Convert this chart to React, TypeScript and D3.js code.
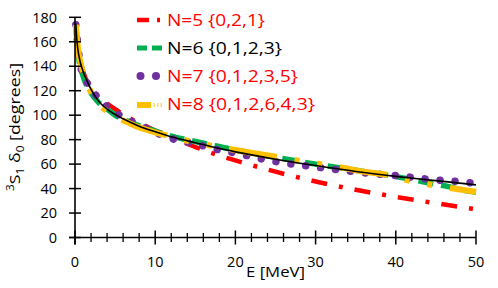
import React from "react";
import * as d3 from "d3";

const W = 498;
const H = 288;

const xTicksMajor = [0, 10, 20, 30, 40, 50];
const xTicksMinor = [2, 4, 6, 8, 12, 14, 16, 18, 22, 24, 26, 28, 32, 34, 36, 38, 42, 44, 46, 48];
const yTicks = [0, 20, 40, 60, 80, 100, 120, 140, 160, 180];

const exactE = [0.1, 0.25, 0.5, 1, 1.5, 2, 3, 4, 5, 6, 8, 10, 12.5, 15, 17.5, 20, 25, 30, 35, 40, 45, 50];
const exactD = [175, 160, 148, 136, 128, 121, 111, 105, 100.5, 97, 91, 86.5, 81.5, 77.5, 73.5, 70, 64, 58.8, 54, 50, 46.5, 43];

const n5E = [0.1, 0.5, 1, 2, 3, 4, 5, 7, 10, 12.5, 15, 17.5, 20, 25, 30, 35, 40, 45, 50];
const n5D = [174, 149, 136, 122, 115, 109.5, 105, 97, 87.5, 80.5, 74, 68, 63, 53.8, 45.8, 39, 33.2, 28, 23];

const n6E = [0.1, 0.5, 1, 2, 3, 4, 5, 7, 10, 12.5, 15, 17.5, 20, 25, 30, 35, 40, 45, 47, 48.5, 50];
const n6D = [173, 145, 132, 118, 110, 105, 100, 94, 87, 82, 78.5, 75, 71.5, 65.5, 60, 55, 49.8, 43.5, 41, 38.5, 37];

const n7E = [0.1, 0.8, 1.9, 2.9, 5, 8, 12.5, 15, 18, 20, 23.6, 25.5, 29.2, 33, 36.6, 40.5, 44.3, 48, 50];
const n7D = [174, 137, 123, 114, 102.5, 92, 80, 76.5, 71.5, 69, 63.8, 61.5, 58.3, 55.2, 52.5, 50.3, 47.5, 45.6, 44.3];

const n8E = [0.1, 0.4, 0.8, 1.5, 2, 3, 4, 5, 6.4, 8, 10, 12.3, 15, 17.5, 20, 25, 30, 33, 36, 39, 41, 44, 47, 50];
const n8D = [174, 153, 140, 125, 119, 109, 103, 98.5, 94.6, 90, 86, 82, 77.5, 74.5, 71.5, 66, 60.5, 57.5, 53.8, 51, 47.5, 43.5, 40.2, 37.4];

const legendLabels = ["N=5 {0,2,1}", "N=6 {0,1,2,3}", "N=7 {0,1,2,3,5}", "N=8 {0,1,2,6,4,3}"];
const legendColors = ["#FF0000", "#000000", "#FF0000", "#FF0000"];
const legendWidths = [98, 115, 131, 148];

const RED = "#FF0000";
const GREEN = "#00B050";
const PURPLE = "#7030A0";
const ORANGE = "#FFC000";

const font = "'Open Sans', 'Noto Sans', sans-serif";

export default function App() {
  const x = d3.scaleLinear().domain([0, 50]).range([75, 476]);
  const y = d3.scaleLinear().domain([0, 180]).range([237.5, 17.3]);

  const mk = (es: number[], ds: number[]) =>
    d3
      .line<number>()
      .x((_, i) => x(es[i]))
      .y((d) => y(d))
      .curve(d3.curveMonotoneX)(ds) as string;

  const y0 = y(0);
  const x0 = x(0);

  return (
    <svg
      width={W}
      height={H}
      viewBox={`0 0 ${W} ${H}`}
      style={{ position: "absolute", left: 0, top: 0, background: "#fff" }}
      fontFamily={font}
    >
      <rect width={W} height={H} fill="#fff" />
      {/* series */}
      <path d={mk(n5E, n5D)} fill="none" stroke={RED} strokeWidth={4.5} strokeDasharray="16 12 4 12" />
      <path d={mk(n6E, n6D)} fill="none" stroke={GREEN} strokeWidth={5.5} strokeDasharray="15 8" />
      <path d={mk(n7E, n7D)} fill="none" stroke={PURPLE} strokeWidth={7.5} strokeLinecap="round" strokeDasharray="0.01 15" />
      <path d={mk(n8E, n8D)} fill="none" stroke={ORANGE} strokeWidth={6} strokeDasharray="48 18 5 18 5 18" />
      <path d={mk(exactE, exactD)} fill="none" stroke="#000" strokeWidth={1.6} />

      {/* axes */}
      <line x1={x0} x2={x0} y1={y(180)} y2={y0 + 7} stroke="#000" strokeWidth={1.6} />
      <line x1={x0 - 6} x2={x(50)} y1={y0} y2={y0} stroke="#000" strokeWidth={1.6} />
      {yTicks.map((t) => (
        <g key={"y" + t}>
          <line x1={x0 - 6} x2={x0 + 6} y1={y(t)} y2={y(t)} stroke="#000" strokeWidth={1.5} />
          <text x={57} y={y(t) + 5.2} textAnchor="end" fontSize={14.5} fill="#000">
            {t}
          </text>
        </g>
      ))}
      {xTicksMajor.map((t) => (
        <g key={"xm" + t}>
          <line x1={x(t)} x2={x(t)} y1={y0 - 7} y2={y0 + 7} stroke="#000" strokeWidth={1.5} />
          <text x={x(t)} y={267} textAnchor="middle" fontSize={14.5} fill="#000">
            {t}
          </text>
        </g>
      ))}
      {xTicksMinor.map((t) => (
        <line key={"xn" + t} x1={x(t)} x2={x(t)} y1={y0 - 4.5} y2={y0 + 4.5} stroke="#000" strokeWidth={1.3} />
      ))}

      {/* axis titles */}
      <text x={275.5} y={277} textAnchor="middle" fontSize={14.5} fill="#000" textLength={59} lengthAdjust="spacingAndGlyphs">
        E [MeV]
      </text>
      <text
        transform={`translate(20,127) rotate(-90)`}
        textAnchor="middle"
        fontSize={15}
        fill="#000"
        textLength={128}
        lengthAdjust="spacingAndGlyphs"
      >
        <tspan fontSize={10} dy={-6}>3</tspan>
        <tspan dy={6}>S</tspan>
        <tspan fontSize={10} dy={4}>1</tspan>
        <tspan dy={-4}> δ</tspan>
        <tspan fontSize={10} dy={4}>0</tspan>
        <tspan dy={-4}> [degrees]</tspan>
      </text>

      {/* legend */}
      {legendLabels.map((lab, i) => {
        const cy = 20 + i * 28;
        return (
          <g key={lab}>
            {i === 0 && (
              <g>
                <line x1={137} x2={149} y1={cy} y2={cy} stroke={RED} strokeWidth={4.5} />
                <line x1={157} x2={160} y1={cy} y2={cy} stroke={RED} strokeWidth={4.5} />
              </g>
            )}
            {i === 1 && (
              <g>
                <line x1={137} x2={147} y1={cy} y2={cy} stroke={GREEN} strokeWidth={5} />
                <line x1={152} x2={162} y1={cy} y2={cy} stroke={GREEN} strokeWidth={5} />
              </g>
            )}
            {i === 2 && (
              <g>
                <circle cx={140.5} cy={cy} r={4} fill={PURPLE} />
                <circle cx={156} cy={cy} r={4} fill={PURPLE} />
              </g>
            )}
            {i === 3 && (
              <g>
                <line x1={137} x2={151} y1={cy + 1} y2={cy + 1} stroke={ORANGE} strokeWidth={6} />
                <line x1={153.5} x2={155} y1={cy + 1} y2={cy + 1} stroke={ORANGE} strokeWidth={4} opacity={0.6} />
                <line x1={157} x2={158.5} y1={cy + 1} y2={cy + 1} stroke={ORANGE} strokeWidth={4} opacity={0.6} />
                <line x1={160.5} x2={162} y1={cy + 1} y2={cy + 1} stroke={ORANGE} strokeWidth={4} opacity={0.6} />
              </g>
            )}
            <text
              x={167}
              y={cy + 5.7}
              fontSize={16}
              fill={legendColors[i]}
              textLength={legendWidths[i]}
              lengthAdjust="spacingAndGlyphs"
            >
              {lab}
            </text>
          </g>
        );
      })}
    </svg>
  );
}
